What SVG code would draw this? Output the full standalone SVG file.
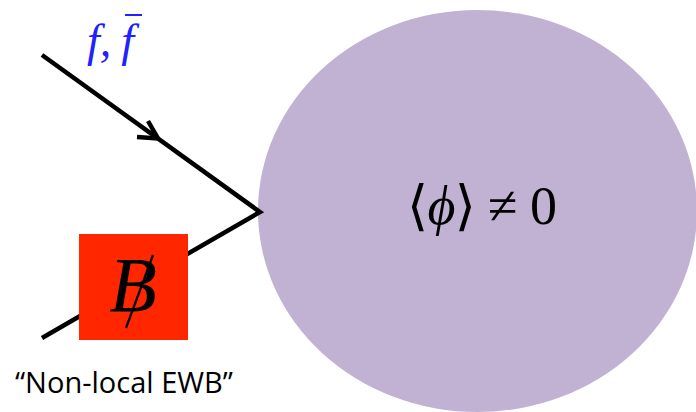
<svg xmlns="http://www.w3.org/2000/svg" width="696" height="412" viewBox="0 0 696 412">
<style>
.line{stroke:#000;stroke-width:4.5;fill:none;stroke-linecap:butt}
.math{font-family:"Liberation Serif","DejaVu Serif",serif;font-style:italic}
.rm{font-family:"Liberation Serif","DejaVu Serif",serif}
.caption{font-family:"Open Sans","Noto Sans",sans-serif;font-size:29px;fill:#000}
</style>
<rect width="696" height="412" fill="#fff"/>
<g id="vev">
<ellipse cx="477.5" cy="211" rx="219.5" ry="201" fill="#C1B2D3"/>
<text x="482" y="224" text-anchor="middle" class="rm" font-size="54" fill="#000" textLength="150">⟨<tspan class="math">ϕ</tspan>⟩ ≠ 0</text>
</g>
<g id="connectors">
<polyline class="line" points="42,55 260,212 42,338"/>
<polyline class="line" points="148,121 158,138.5 137,137" stroke-linejoin="miter"/>
</g>
<g id="fermion-label">
<text x="87" y="56" class="math" font-size="46" fill="#2121FF">f,<tspan dx="10">f</tspan></text>
<line x1="125" y1="15" x2="142" y2="15" stroke="#2121FF" stroke-width="2"/>
</g>
<g id="bviolation">
<rect x="79" y="234" width="109" height="106" fill="#FF2600"/>
<text x="133" y="311" text-anchor="middle" class="math" font-size="78" fill="#000">B</text>
<line x1="153" y1="255" x2="126" y2="328" stroke="#000" stroke-width="2.2"/>
</g>
<g id="caption">
<text x="15" y="393" class="caption">“Non-local EWB”</text>
</g>
</svg>
